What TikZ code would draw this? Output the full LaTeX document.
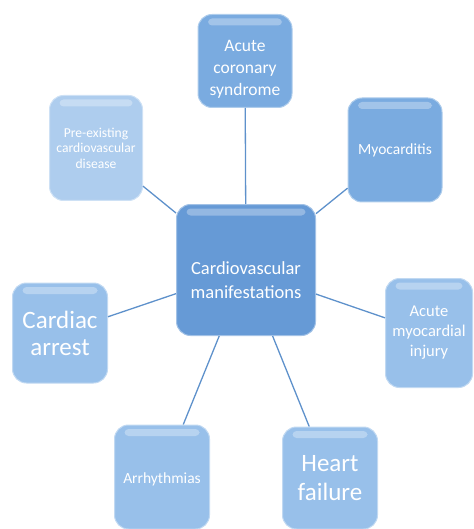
\documentclass[tikz,border=0pt]{standalone}
\usepackage{fontspec}
\setmainfont{Carlito}
\definecolor{hubblue}{RGB}{102,154,214}
\definecolor{midblue}{RGB}{122,171,224}
\definecolor{softblue}{RGB}{152,192,234}
\definecolor{paleblue}{RGB}{174,205,238}
\definecolor{linkblue}{RGB}{94,145,203}
\newcommand{\lowertext}[2]{\raisebox{-#1}[\height][\depth]{\begin{tabular}{@{}c@{}}#2\end{tabular}}}
\begin{document}
\begin{tikzpicture}[x=1pt, y=-1pt,
    box/.style={rounded corners=14pt, text=white, align=center, inner sep=2pt,
      line width=1pt,
      path picture={\fill[white, opacity=0.3, rounded corners=4pt]
        ([xshift=10pt,yshift=-4pt]path picture bounding box.north west) rectangle
        ([xshift=-10pt,yshift=-11pt]path picture bounding box.north east);}},
    link/.style={draw=linkblue, line width=1.3pt}]
    \useasboundingbox (0,0) rectangle (473,529);
    % centre
    \node[box, fill=hubblue, draw=hubblue!60!white, minimum width=139pt, minimum height=131pt,
      font=\fontsize{18.5}{24}\selectfont] (cvm) at (246,270)
      {\lowertext{12pt}{Cardiovascular\\manifestations}};
    % outer boxes
    \node[box, fill=midblue, draw=midblue!60!white, minimum width=94pt, minimum height=93pt,
      font=\fontsize{17.5}{22}\selectfont] (acs) at (245,61)
      {\lowertext{8pt}{Acute\\coronary\\syndrome}};
    \node[box, fill=midblue, draw=midblue!60!white, minimum width=94pt, minimum height=104pt,
      font=\fontsize{15.5}{18}\selectfont] (myo) at (395,150) {Myocarditis};
    \node[box, fill=paleblue, draw=paleblue!60!white, minimum width=93pt, minimum height=105pt,
      font=\fontsize{13.6}{15.5}\selectfont] (pre) at (96,148) {Pre-existing\\cardiovascular\\disease};
    \node[box, fill=softblue, draw=softblue!60!white, minimum width=95pt, minimum height=100pt,
      font=\fontsize{25}{27}\selectfont] (arrest) at (60,333) {Cardiac\\arrest};
    \node[box, fill=softblue, draw=softblue!60!white, minimum width=87pt, minimum height=109pt,
      font=\fontsize{16.5}{20}\selectfont] (ami) at (429,333) {Acute\\myocardial\\injury};
    \node[box, fill=softblue, draw=softblue!60!white, minimum width=95pt, minimum height=104pt,
      font=\fontsize{15.5}{18}\selectfont] (arr) at (162,477) {\lowertext{3pt}{Arrhythmias}};
    \node[box, fill=softblue, draw=softblue!60!white, minimum width=95pt, minimum height=102pt,
      font=\fontsize{25}{29}\selectfont] (hf) at (330,478) {Heart\\failure};
    % connectors
    \foreach \outer in {acs, myo, pre, arrest, ami, arr, hf}
      \draw[link] (cvm) -- (\outer);
\end{tikzpicture}
\end{document}
